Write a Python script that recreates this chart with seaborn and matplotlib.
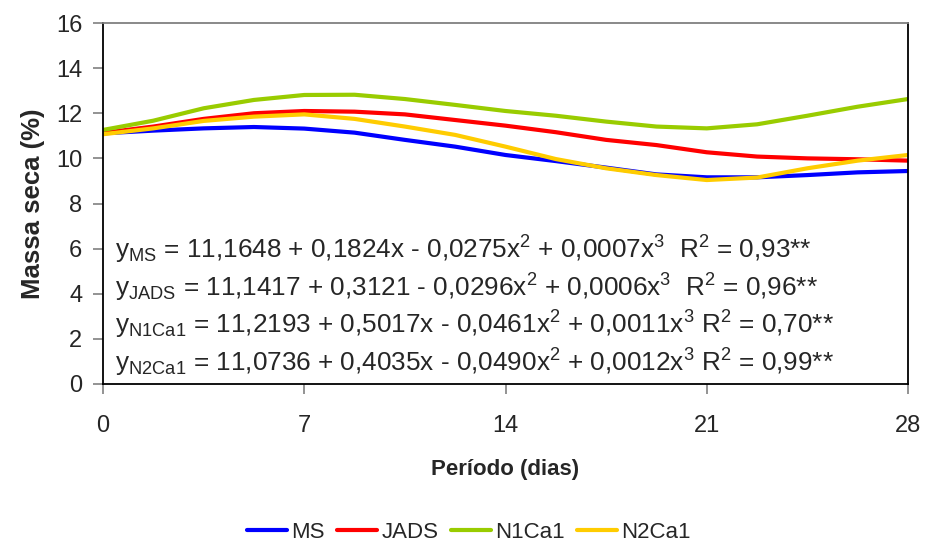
import numpy as np
import pandas as pd
import matplotlib
matplotlib.use("Agg")
import matplotlib.pyplot as plt
import seaborn as sns

# Sampling days of the fitted curves (every 1.75 days from 0 to 28)
dias = [0, 1.75, 3.5, 5.25, 7, 8.75, 10.5, 12.25, 14, 15.75, 17.5, 19.25, 21, 22.75, 24.5, 26.25, 28]

ms = [11.11, 11.23, 11.33, 11.39, 11.32, 11.14, 10.82, 10.52, 10.15, 9.88, 9.59, 9.29, 9.16, 9.16, 9.26, 9.38, 9.44]
jads = [11.13, 11.41, 11.75, 12.00, 12.10, 12.07, 11.95, 11.70, 11.45, 11.16, 10.82, 10.59, 10.27, 10.08, 10.00, 9.96, 9.90]
n1ca1 = [11.26, 11.67, 12.22, 12.59, 12.81, 12.82, 12.63, 12.37, 12.10, 11.89, 11.63, 11.41, 11.33, 11.51, 11.89, 12.29, 12.63]
n2ca1 = [11.07, 11.33, 11.66, 11.85, 11.95, 11.75, 11.41, 11.04, 10.52, 9.97, 9.56, 9.26, 9.04, 9.15, 9.56, 9.90, 10.15]

tratamentos = ["MS", "JADS", "N1Ca1", "N2Ca1"]
cores = ["#0000FF", "#FF0000", "#99CC00", "#FFCC00"]

x_ticks = [0, 7, 14, 21, 28]
y_ticks = [0, 2, 4, 6, 8, 10, 12, 14, 16]

equacoes = [
    r"$y_{MS}$ = 11,1648 + 0,1824x - 0,0275x$^{2}$ + 0,0007x$^{3}$  R$^{2}$ = 0,93**",
    r"$y_{JADS}$ = 11,1417 + 0,3121 - 0,0296x$^{2}$ + 0,0006x$^{3}$  R$^{2}$ = 0,96**",
    r"$y_{N1Ca1}$ = 11,2193 + 0,5017x - 0,0461x$^{2}$ + 0,0011x$^{3}$ R$^{2}$ = 0,70**",
    r"$y_{N2Ca1}$ = 11,0736 + 0,4035x - 0,0490x$^{2}$ + 0,0012x$^{3}$ R$^{2}$ = 0,99**",
]

df = pd.DataFrame({
    "Período (dias)": dias * 4,
    "Massa seca (%)": ms + jads + n1ca1 + n2ca1,
    "Tratamento": sum([[t] * len(dias) for t in tratamentos], []),
})

sns.set_style("white")
plt.rcParams["font.family"] = ["Liberation Sans", "DejaVu Sans"]
plt.rcParams["mathtext.default"] = "regular"

fig = plt.figure(figsize=(9.25, 5.48), dpi=100)
ax = fig.add_axes([103 / 925, 1 - 384 / 548, (908 - 103) / 925, (384 - 23) / 548])

sns.lineplot(data=df, x="Período (dias)", y="Massa seca (%)", hue="Tratamento",
             hue_order=tratamentos, palette=cores, linewidth=3.0, ax=ax, legend=True)

ax.set_xlim(0, 28)
ax.set_ylim(0, 16)
ax.set_xticks(x_ticks)
ax.set_yticks(y_ticks)
ax.tick_params(axis="both", direction="out", length=7, width=1.2, color="#808080",
               left=True, bottom=True)
ax.tick_params(axis="y", labelsize=17, pad=8)
ax.tick_params(axis="x", labelsize=17, pad=15)
for side in ["left", "bottom", "right"]:
    ax.spines[side].set_color("black")
    ax.spines[side].set_linewidth(1.3)
ax.spines["top"].set_color("#808080")
ax.spines["top"].set_linewidth(1.3)

ax.set_xlabel("Período (dias)", fontsize=16, fontweight="bold", labelpad=16)
ax.set_ylabel("Massa seca (%)", fontsize=18.5, fontweight="bold", labelpad=8)

for i, eq in enumerate(equacoes):
    fig.text(115 / 925, 1 - (250 + 37.5 * i) / 548, eq, fontsize=18.8, va="center", ha="left")

handles, labels = ax.get_legend_handles_labels()
ax.get_legend().remove()
fig.legend(handles, labels, loc="center", bbox_to_anchor=(469 / 925, 1 - 532 / 548),
           ncol=4, frameon=False, fontsize=16, handlelength=1.8, handletextpad=0.2,
           columnspacing=0.55)

fig.savefig("out.png", dpi=100)
